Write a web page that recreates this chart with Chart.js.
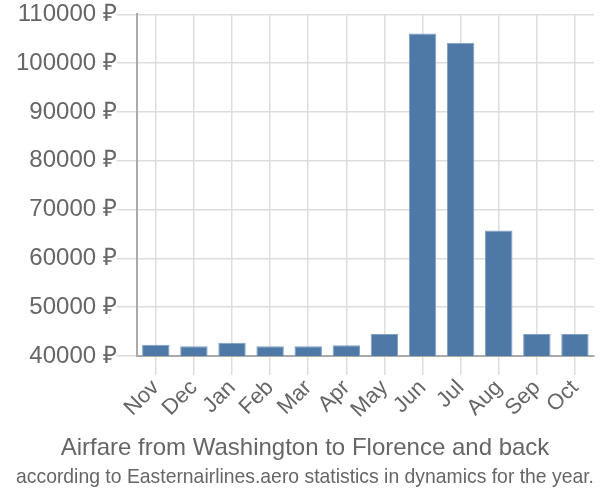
<!DOCTYPE html>
<html>
<head>
<meta charset="utf-8">
<script src="https://cdn.jsdelivr.net/npm/chart.js@4/dist/chart.umd.min.js"></script>
<style>
  body { margin: 0; background: #fff; }
  #wrap { width: 600px; height: 500px; }
</style>
</head>
<body>
<div id="wrap"><canvas id="barChart"></canvas></div>
<script>
const months = ['Nov','Dec','Jan','Feb','Mar','Apr','May','Jun','Jul','Aug','Sep','Oct']
const prices = [42300, 42000, 42700, 42000, 42000, 42200, 44500, 106100, 104200, 65700, 44500, 44500]
const yTicks = [40000, 50000, 60000, 70000, 80000, 90000, 100000, 110000]

const barChartCanvas = document.getElementById('barChart');
const barChart = new Chart(barChartCanvas, {
  type: 'bar',
  data: {
    labels: months,
    datasets: [{
      label: 'Airfare',
      data: prices,
      backgroundColor: '#4e79a7',
      borderColor: '#7f9fc4',
      borderWidth: 1,
      barPercentage: 0.72,
      categoryPercentage: 1,
    }],
  },
  options: {
    responsive: true,
    maintainAspectRatio: false,
    animation: false,
    layout: { padding: { left: 16, right: 6, top: 4, bottom: 0 } },
    plugins: {
      legend: { display: false },
      tooltip: { enabled: false },
      title: {
        display: true,
        position: 'bottom',
        weight: 1000,
        text: 'Airfare from Washington to Florence and back',
        color: '#666',
        font: { family: 'Liberation Sans', size: 24, weight: 'normal' },
        padding: { top: 11, bottom: 2 },
      },
      subtitle: {
        display: true,
        position: 'bottom',
        weight: 3000,
        text: 'according to Easternairlines.aero statistics in dynamics for the year.',
        color: '#666',
        font: { family: 'Liberation Sans', size: 21, weight: 'normal' },
        padding: { top: 0, bottom: 10 },
      },
    },
    scales: {
      x: {
        grid: { color: '#ddd', lineWidth: 1.5, tickLength: 19, offset: false },
        border: { color: '#aaa', width: 2 },
        ticks: {
          color: '#666',
          font: { family: 'Liberation Sans', size: 22 },
          autoSkip: false,
          maxRotation: 45,
          minRotation: 45,
          padding: 0,
        },
      },
      y: {
        min: 40000,
        max: 110000,
        afterBuildTicks: axis => { axis.ticks = yTicks.map(v => ({ value: v })) },
        grid: { color: '#ddd', lineWidth: 1.5, tickLength: 20 },
        border: { color: '#aaa', width: 2 },
        ticks: {
          color: '#666',
          font: { family: 'Liberation Sans', size: 24 },
          padding: 0,
          callback: v => v + ' ₽',
        },
      },
    },
  },
});
</script>
</body>
</html>
